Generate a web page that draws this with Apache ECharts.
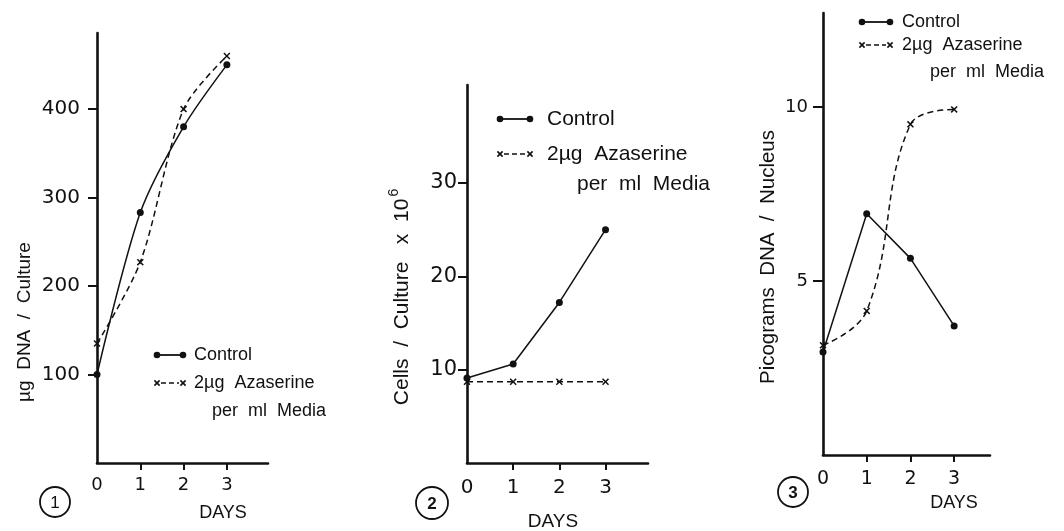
<!DOCTYPE html>
<html>
<head>
<meta charset="utf-8">
<script src="https://cdn.jsdelivr.net/npm/echarts@6/dist/echarts.min.js"></script>
<style>
html,body{margin:0;padding:0;background:#fff;}
#chart{width:1064px;height:531px;}
</style>
</head>
<body>
<div id="chart"></div>
<script>
// ---- data ----
const days = [0, 1, 2, 3];
const xTickLabels = [0, 1, 2, 3];
const xTickMarks = [1, 2, 3];

const dnaControl = [100, 283, 380, 450];
const dnaAzaserine = [135, 227, 400, 460];
const dnaTicks = [100, 200, 300, 400];

const cellsControl = [9.1, 10.6, 17.2, 25.0];
const cellsAzaserine = [8.7, 8.7, 8.7, 8.7];
const cellsTicks = [10, 20, 30];

const pgControl = [2.96, 6.93, 5.65, 3.71];
const pgAzaserine = [3.15, 4.14, 9.5, 9.93];
const pgTicks = [5, 10];

const legendControl = 'Control';
const legendAza1 = '2\u00b5g  Azaserine';
const legendAza2 = 'per  ml  Media';

// ---- helpers ----
const FONT = '"Liberation Sans", Arial, sans-serif';
const NUMFONT = '"DejaVu Sans", "Liberation Sans", sans-serif';
const INK = '#111';
const crossPath = 'path://M0,1.5L1.5,0L5,3.5L8.5,0L10,1.5L6.5,5L10,8.5L8.5,10L5,6.5L1.5,10L0,8.5L3.5,5Z';
const pairs = (ys) => days.map((d, i) => [d, ys[i]]);

function xAxisCfg(gi, max, margin, fs) {
  return {
    type: 'value', gridIndex: gi, min: 0, max: max, interval: 1,
    axisLine: { show: true, onZero: false, lineStyle: { color: INK, width: 2.6 } },
    axisTick: { show: true, inside: false, length: 7, customValues: xTickMarks, lineStyle: { color: INK, width: 2 } },
    axisLabel: { show: true, margin: margin, customValues: xTickLabels, color: INK, fontSize: fs, fontFamily: NUMFONT },
    splitLine: { show: false }
  };
}
function yAxisCfg(gi, max, ticks, margin, fs, tl) {
  return {
    type: 'value', gridIndex: gi, min: 0, max: max,
    axisLine: { show: true, onZero: false, lineStyle: { color: INK, width: 2.6 } },
    axisTick: { show: true, inside: false, length: tl, customValues: ticks, lineStyle: { color: INK, width: 2 } },
    axisLabel: { show: true, margin: margin, customValues: ticks, color: INK, fontSize: fs, fontFamily: NUMFONT },
    splitLine: { show: false }
  };
}
function ctrlSeries(gi, ys, smooth) {
  return {
    type: 'line', xAxisIndex: gi, yAxisIndex: gi, data: pairs(ys), smooth: smooth,
    symbol: 'circle', symbolSize: 7, showSymbol: true, clip: false,
    itemStyle: { color: INK },
    lineStyle: { color: INK, width: 1.5 },
    emphasis: { disabled: true }
  };
}
function azaSeries(gi, ys, smooth) {
  return {
    type: 'line', xAxisIndex: gi, yAxisIndex: gi, data: pairs(ys), smooth: smooth,
    symbol: crossPath, symbolSize: 7, showSymbol: true, clip: false,
    itemStyle: { color: INK },
    lineStyle: { color: INK, width: 1.5, type: [6, 4] },
    emphasis: { disabled: true }
  };
}
function cross(cx, cy, s) {
  return [
    { type: 'line', shape: { x1: cx - s, y1: cy - s, x2: cx + s, y2: cy + s }, style: { stroke: INK, lineWidth: 1.6 } },
    { type: 'line', shape: { x1: cx - s, y1: cy + s, x2: cx + s, y2: cy - s }, style: { stroke: INK, lineWidth: 1.6 } }
  ];
}
function txt(x, y, text, fs, align, extra) {
  return Object.assign({
    type: 'text', x: x, y: y,
    style: { text: text, fill: INK, font: fs + 'px ' + FONT, textAlign: align || 'left', textVerticalAlign: 'middle' }
  }, extra || {});
}
function legend(l) {
  const els = [
    { type: 'line', shape: { x1: l.x0, y1: l.yc, x2: l.x1, y2: l.yc }, style: { stroke: INK, lineWidth: 1.8 } },
    { type: 'circle', shape: { cx: l.x0, cy: l.yc, r: 3.3 }, style: { fill: INK } },
    { type: 'circle', shape: { cx: l.x1, cy: l.yc, r: 3.3 }, style: { fill: INK } },
    txt(l.tx, l.yc, legendControl, l.fs),
    { type: 'line', shape: { x1: l.x0 + 4, y1: l.ya, x2: l.x1 - 4, y2: l.ya }, style: { stroke: INK, lineWidth: 1.6, lineDash: [5, 3] } },
    txt(l.tx, l.ya, legendAza1, l.fs),
    txt(l.tx2, l.y2, legendAza2, l.fs)
  ];
  return els.concat(cross(l.x0, l.ya, 2.6), cross(l.x1, l.ya, 2.6));
}
function circled(cx, cy, r, label, bold) {
  return [
    { type: 'circle', shape: { cx: cx, cy: cy, r: r }, style: { fill: 'none', stroke: INK, lineWidth: 1.8 } },
    { type: 'text', x: cx, y: cy + 1, style: { text: label, fill: INK, font: (bold ? 'bold ' : '') + '17px ' + FONT, textAlign: 'center', textVerticalAlign: 'middle' } }
  ];
}
function vtitle(x, y, text, fs, rich) {
  const st = { text: text, fill: INK, font: fs + 'px ' + FONT, textAlign: 'center', textVerticalAlign: 'middle' };
  if (rich) st.rich = rich;
  return { type: 'text', x: x, y: y, rotation: Math.PI / 2, style: st };
}

const graphics = [].concat(
  legend({ x0: 157, x1: 183, yc: 355, ya: 383, tx: 194, tx2: 212, y2: 411, fs: 18 }),
  legend({ x0: 500, x1: 530, yc: 119, ya: 154, tx: 547, tx2: 577, y2: 184, fs: 21 }),
  legend({ x0: 862, x1: 890, yc: 22, ya: 45, tx: 902, tx2: 930, y2: 72, fs: 18 }),
  circled(55, 502, 15, '1', false),
  circled(432, 503, 16, '2', true),
  circled(793, 492, 15, '3', true),
  [
    txt(223, 513, 'DAYS', 18, 'center'),
    txt(553, 522, 'DAYS', 19, 'center'),
    txt(954, 503, 'DAYS', 18, 'center'),
    vtitle(25, 322, '\u00b5g  DNA  /  Culture', 19),
    vtitle(402, 297, '{a|Cells  /  Culture   x  10}{s|6}', 21, {
      a: { fontSize: 21, fontFamily: FONT, fill: INK },
      s: { fontSize: 14, fontFamily: FONT, fill: INK, verticalAlign: 'bottom', padding: [0, 0, 15, 2] }
    }),
    vtitle(768, 257, 'Picograms  DNA  /  Nucleus', 20.5)
  ]
);

const option = {
  animation: false,
  backgroundColor: '#fff',
  grid: [
    { left: 97, top: 33, width: 171, height: 430, containLabel: false },
    { left: 467, top: 85, width: 181, height: 378, containLabel: false },
    { left: 823, top: 13, width: 167, height: 442, containLabel: false }
  ],
  xAxis: [
    xAxisCfg(0, 3.95, 13, 18),
    xAxisCfg(1, 3.92, 15, 20),
    xAxisCfg(2, 3.82, 15, 19)
  ],
  yAxis: [
    yAxisCfg(0, 486, dnaTicks, 17, 20, 9),
    yAxisCfg(1, 40.5, cellsTicks, 10, 21, 9),
    yAxisCfg(2, 12.7, pgTicks, 15, 18, 10)
  ],
  series: [
    ctrlSeries(0, dnaControl, 0.3),
    azaSeries(0, dnaAzaserine, 0.3),
    ctrlSeries(1, cellsControl, false),
    azaSeries(1, cellsAzaserine, false),
    ctrlSeries(2, pgControl, false),
    azaSeries(2, pgAzaserine, 0.4)
  ],
  graphic: graphics
};

const chart = echarts.init(document.getElementById('chart'), null, { renderer: 'canvas' });
chart.setOption(option);
</script>
</body>
</html>
